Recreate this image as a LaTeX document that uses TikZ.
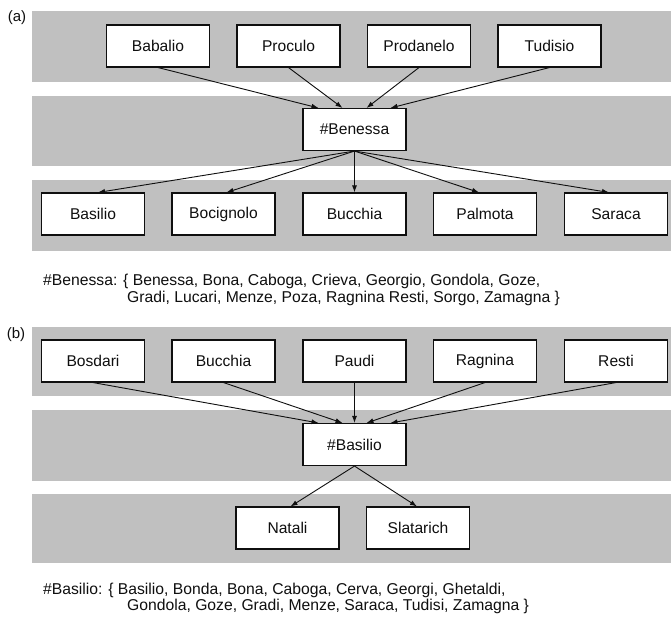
\documentclass[tikz,border=0pt]{standalone}
\usepackage{fontspec}
\setmainfont{Liberation Sans}
\usetikzlibrary{arrows.meta}
\definecolor{band}{RGB}{192,192,192}
\definecolor{ink}{RGB}{15,15,15}
\begin{document}
\begin{tikzpicture}[x=1pt,y=-1pt,
  box/.style={draw=ink, line width=1.1pt, fill=white, minimum width=103pt, minimum height=42pt, inner sep=0pt, font=\fontsize{15.6}{18}\selectfont, text=ink},
  arr/.style={draw=ink, line width=0.9pt, -{Latex[length=7pt,width=5pt]}},
  captext/.style={anchor=base west, inner sep=0pt, font=\fontsize{15.7}{17}\selectfont, text=ink},
  lab/.style={inner sep=0pt, font=\fontsize{15}{17}\selectfont, text=ink}]
\fill[white] (0,0) rectangle (671,622);
\useasboundingbox (0,0) rectangle (671,622);
% bands
\fill[band] (32,11) rectangle (671,82);
\fill[band] (32,96) rectangle (671,166);
\fill[band] (32,180) rectangle (671,251);
\fill[band] (32,327) rectangle (671,396);
\fill[band] (32,410) rectangle (671,481);
\fill[band] (32,494) rectangle (671,563);
% labels
\node[lab] (la) at (17,18) {(a)};
\node[lab] (lb) at (16,335) {(b)};
% panel (a)
\node[box] (babalio) at (158,46) {Babalio};
\node[box] (proculo) at (288.5,46) {Proculo};
\node[box] (prodanelo) at (419,46) {Prodanelo};
\node[box] (tudisio) at (549.5,46) {Tudisio};
\node[box] (benessa) at (354.5,129.5) {\#Benessa};
\node[box] (basilio) at (93,214) {Basilio};
\node[box] (bocignolo) at (223.5,214) {Bocignolo};
\node[box] (bucchiaA) at (354.5,214) {Bucchia};
\node[box] (palmota) at (485,214) {Palmota};
\node[box] (saraca) at (616,214) {Saraca};
\draw[arr] (babalio.south) -- ([xshift=-36pt]benessa.north);
\draw[arr] (proculo.south) -- ([xshift=-12pt]benessa.north);
\draw[arr] (prodanelo.south) -- ([xshift=12pt]benessa.north);
\draw[arr] (tudisio.south) -- ([xshift=36pt]benessa.north);
\draw[arr] (benessa.south) -- ([xshift=5pt]basilio.north);
\draw[arr] (benessa.south) -- ([xshift=3pt]bocignolo.north);
\draw[arr] (benessa.south) -- (bucchiaA.north);
\draw[arr] (benessa.south) -- ([xshift=-6pt]palmota.north);
\draw[arr] (benessa.south) -- ([xshift=-7pt]saraca.north);
\node[captext] (capa1) at (43,285) {\#Benessa: \{ Benessa, Bona, Caboga, Crieva, Georgio, Gondola, Goze,};
\node[captext] (capa2) at (127,302) {Gradi, Lucari, Menze, Poza, Ragnina Resti, Sorgo, Zamagna \}};
% panel (b)
\node[box] (bosdari) at (93,361) {Bosdari};
\node[box] (bucchiaB) at (223.5,361) {Bucchia};
\node[box] (paudi) at (354.5,361) {Paudi};
\node[box] (ragnina) at (485,361) {Ragnina};
\node[box] (resti) at (616,361) {Resti};
\node[box] (basilioH) at (354.5,444.5) {\#Basilio};
\node[box] (natali) at (287.5,528) {Natali};
\node[box] (slatarich) at (418,528) {Slatarich};
\draw[arr] (bosdari.south) -- ([xshift=-36pt]basilioH.north);
\draw[arr] (bucchiaB.south) -- ([xshift=-12pt]basilioH.north);
\draw[arr] (paudi.south) -- (basilioH.north);
\draw[arr] (ragnina.south) -- ([xshift=12pt]basilioH.north);
\draw[arr] (resti.south) -- ([xshift=36pt]basilioH.north);
\draw[arr] (basilioH.south) -- ([xshift=3pt]natali.north);
\draw[arr] (basilioH.south) -- ([xshift=-1pt]slatarich.north);
\node[captext] (capb1) at (43,594) {\#Basilio: \{ Basilio, Bonda, Bona, Caboga, Cerva, Georgi, Ghetaldi,};
\node[captext] (capb2) at (127,610) {Gondola, Goze, Gradi, Menze, Saraca, Tudisi, Zamagna \}};
\end{tikzpicture}
\end{document}
